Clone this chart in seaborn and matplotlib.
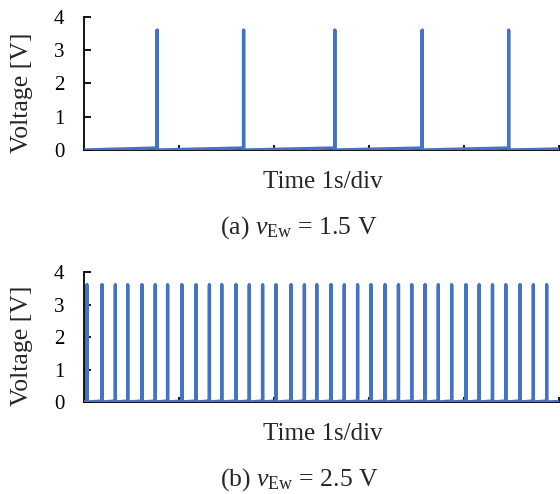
import numpy as np
import pandas as pd
import matplotlib
matplotlib.use("Agg")
import matplotlib.pyplot as plt
import seaborn as sns

# spike times (1 s/div, 5 div)
spikes_a = [0.77, 1.68, 2.64, 3.56, 4.47]
spikes_b = [0.03, 0.19, 0.33, 0.46, 0.61, 0.75, 0.88, 1.03, 1.18, 1.32,
            1.45, 1.60, 1.74, 1.88, 2.02, 2.18, 2.32, 2.45, 2.60, 2.74,
            2.88, 3.02, 3.17, 3.31, 3.45, 3.59, 3.73, 3.87, 4.02, 4.16,
            4.30, 4.44, 4.59, 4.73, 4.87]
peak_v = 3.6
pre_v_a = 0.06   # baseline creeps up a little before each pulse
pre_v_b = 0.03
t_end = 5.0
captions = [r"(a) $v_{\mathrm{Ew}}$ = 1.5 V", r"(b) $v_{\mathrm{Ew}}$ = 2.5 V"]
xlabel = "Time 1s/div"
ylabel = "Voltage [V]"
yticks = [0, 1, 2, 3, 4]

blue = "#4472C4"

sns.set_theme(style="ticks")
plt.rcParams["font.family"] = ["Liberation Serif", "DejaVu Serif"]
plt.rcParams["mathtext.fontset"] = "custom"
plt.rcParams["mathtext.rm"] = "Liberation Serif"
plt.rcParams["mathtext.it"] = "Liberation Serif:italic"


def make_trace(spikes, pre):
    t, v = [0.0], [0.0]
    for s in spikes:
        t += [s, s, s]
        v += [pre, peak_v, 0.0]
    t.append(t_end)
    v.append(pre * 0.5)
    return pd.DataFrame({"t": t, "v": v})


fig = plt.figure(figsize=(5.6, 4.94), dpi=100)
W, H = 560, 494
boxes = [(84, 17, 150), (84, 272, 402)]  # left, top, bottom in px
right = 559

for i, (spk, pre) in enumerate([(spikes_a, pre_v_a), (spikes_b, pre_v_b)]):
    left, top, bot = boxes[i]
    ax = fig.add_axes([left / W, 1 - bot / H, (right - left) / W, (bot - top) / H])
    df = make_trace(spk, pre)
    sns.lineplot(data=df, x="t", y="v", sort=False, estimator=None,
                 color=blue, linewidth=2.4, ax=ax, zorder=3)
    ax.set_xlim(0, t_end)
    ax.set_ylim(0, 4)
    ax.set_yticks(yticks)
    ax.set_xticks(np.arange(1, 6))
    ax.set_xticklabels([])
    ax.set_xlabel("")
    ax.set_ylabel("")
    sns.despine(ax=ax)
    for sp in ["left", "bottom"]:
        ax.spines[sp].set_color("black")
        ax.spines[sp].set_linewidth(1.3)
        ax.spines[sp].set_zorder(1)
    ax.tick_params(axis="y", direction="in", length=5, width=1.3,
                   labelsize=15, pad=14, colors="black")
    ax.tick_params(axis="x", direction="in", length=3.5, width=1.3, colors="black")
    ax.patch.set_alpha(0)

    fig.text(22 / W, 1 - ((top + bot) / 2 + 9) / H, ylabel, rotation=90,
             ha="center", va="center", fontsize=18.5)
    fig.text(323 / W, 1 - (bot + 32) / H, xlabel, ha="center", va="center",
             fontsize=18)
    fig.text(299 / W, 1 - (bot + 78) / H, captions[i], ha="center",
             va="center", fontsize=18.5)

fig.savefig("out.png", dpi=100)
